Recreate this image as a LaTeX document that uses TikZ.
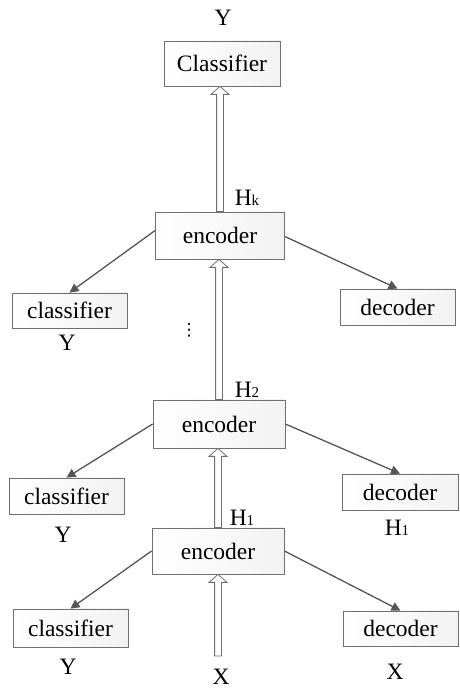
\documentclass[tikz,border=0pt]{standalone}
\usepackage{fontspec}
\setmainfont{Liberation Serif}
\newfontfamily\dejavu{DejaVu Sans}
\usetikzlibrary{arrows.meta,calc}
\definecolor{boxline}{HTML}{707070}
\definecolor{conn}{HTML}{555555}
\tikzset{
  x=1pt,y=1pt,
  box/.style={draw=boxline,line width=0.8pt,left color=white,right color=gray!10,
    minimum width=#1,inner sep=0pt,font=\fontsize{23.5}{26}\selectfont},
  lbl/.style={inner sep=0pt,font=\fontsize{23.5}{26}\selectfont},
  conarrow/.style={draw=conn,line width=1.3pt,-{Triangle[length=9pt,width=9pt]}},
  hollow/.style={draw=boxline,line width=0.8pt,fill=white,
    to path={let \p1=(\tikztostart), \p2=(\tikztotarget) in
      (\x1-3.4pt,\y1) -- (\x1-3.4pt,\y2-8pt) -- (\x1-9pt,\y2-8pt) -- (\x1,\y2)
      -- (\x1+9pt,\y2-8pt) -- (\x1+3.4pt,\y2-8pt) -- (\x1+3.4pt,\y1) -- cycle}}
}
\newcommand{\Hs}[1]{H\raisebox{-0.5pt}{\fontsize{15}{15}\selectfont #1}}
\begin{document}
\begin{tikzpicture}
\useasboundingbox (0,0) rectangle (459,689);
% nodes
\node[lbl] (Ytop) at (223,671) {Y};
\node[box=116pt,minimum height=45pt] (Cls) at (222,625.5) {Classifier};
\node[lbl] (Hk) at (247,491) {\Hs{k}};
\node[box=129pt,minimum height=47pt] (enc1) at (220,453.5) {encoder};
\node[box=115pt,minimum height=35pt] (clsA) at (69.5,378.5) {classifier};
\node[lbl] (YA) at (67,346) {Y};
\node[box=115pt,minimum height=36pt] (decA) at (397.5,382) {decoder};
\node[inner sep=0pt,font=\dejavu\fontsize{17}{17}\selectfont] (dots) at (189,359) {⋮};
\node[lbl] (H2) at (247,299) {\Hs{2}};
\node[box=132pt,minimum height=48pt] (enc2) at (219,265) {encoder};
\node[box=115pt,minimum height=36pt] (clsB) at (66.5,193) {classifier};
\node[lbl] (YB) at (63,154) {Y};
\node[box=116pt,minimum height=36pt] (decB) at (400,197) {decoder};
\node[lbl] (H1r) at (397,161) {\Hs{1}};
\node[lbl] (H1m) at (242,171) {\Hs{1}};
\node[box=132pt,minimum height=46pt] (enc3) at (218,138) {encoder};
\node[box=115pt,minimum height=38pt] (clsC) at (70.5,61) {classifier};
\node[lbl] (YC) at (68,22) {Y};
\node[box=115pt,minimum height=35pt] (decC) at (400.5,60.5) {decoder};
\node[lbl] (XR) at (395,17) {X};
\node[lbl] (Xm) at (221,12) {X};
\coordinate (xin) at (218,33);
% hollow arrows
\draw[hollow] (enc1.north) to (Cls.south);
\draw[hollow] (enc2.north) to (enc1.south);
\draw[hollow] (enc3.north) to (enc2.south);
\draw[hollow] (xin) to (enc3.south);
% connectors
\draw[conarrow] ([yshift=5pt]enc1.west) -- (clsA.north);
\draw[conarrow] ([yshift=-1pt]enc1.east) -- (decA.north);
\draw[conarrow] (enc2.west) -- (clsB.north);
\draw[conarrow] (enc2.east) -- (decB.north);
\draw[conarrow] (enc3.west) -- (clsC.north);
\draw[conarrow] (enc3.east) -- (decC.north);
\end{tikzpicture}
\end{document}
